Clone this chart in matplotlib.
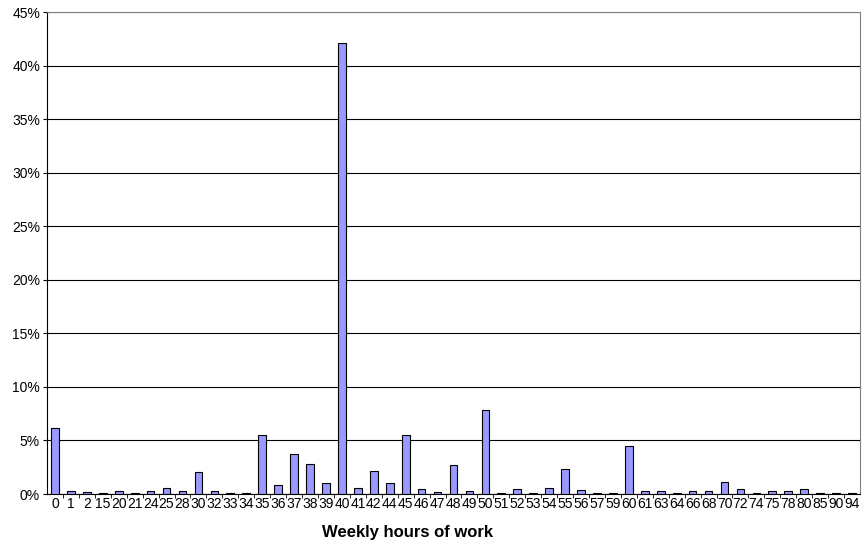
import numpy as np
import matplotlib.pyplot as plt
from matplotlib.ticker import PercentFormatter, FixedLocator

hours = ['0', '1', '2', '15', '20', '21', '24', '25', '28', '30', '32', '33', '34',
         '35', '36', '37', '38', '39', '40', '41', '42', '44', '45', '46', '47', '48',
         '49', '50', '51', '52', '53', '54', '55', '56', '57', '59', '60', '61', '63',
         '64', '66', '68', '70', '72', '74', '75', '78', '80', '85', '90', '94']
share = [6.15, 0.28, 0.22, 0.08, 0.28, 0.08, 0.28, 0.55, 0.28, 2.03, 0.28, 0.08, 0.08,
         5.55, 0.84, 3.72, 2.84, 1.0, 42.1, 0.53, 2.16, 1.0, 5.5, 0.47, 0.22, 2.75,
         0.28, 7.85, 0.09, 0.47, 0.09, 0.59, 2.34, 0.37, 0.09, 0.09, 4.44, 0.25, 0.25,
         0.09, 0.28, 0.25, 1.12, 0.5, 0.09, 0.25, 0.25, 0.5, 0.09, 0.09, 0.09]

plt.rcParams['font.family'] = ['Liberation Sans', 'DejaVu Sans']

fig = plt.figure(figsize=(8.66, 5.45), dpi=100)
ax = fig.add_axes([47 / 866, 51 / 545, 813 / 866, 482 / 545])

x = np.arange(len(hours))
ax.bar(x, share, width=0.48, color='#9999ff', edgecolor='black', linewidth=0.8, zorder=3)

ax.set_xlim(-0.5, len(hours) - 0.5)
ax.set_ylim(0, 45)
ax.set_yticks(np.arange(0, 46, 5))
ax.yaxis.set_major_formatter(PercentFormatter(decimals=0))
ax.yaxis.grid(True, color='black', linewidth=0.8, zorder=0)
ax.set_xticks(x)
ax.set_xticklabels(hours)
ax.xaxis.set_minor_locator(FixedLocator(x[:-1] + 0.5))
ax.tick_params(axis='x', which='major', length=0, labelsize=10, pad=2)
ax.tick_params(axis='x', which='minor', length=3, direction='out')
ax.tick_params(axis='y', length=3, labelsize=10, pad=2)

for s in ['top', 'right']:
    ax.spines[s].set_color('#808080')
ax.spines['left'].set_color('black')
ax.spines['bottom'].set_color('black')

fig.text(407 / 866, 1 - 533 / 545, 'Weekly hours of work', ha='center', va='center',
         fontsize=12, fontweight='bold')

fig.savefig('out.png', dpi=100)
